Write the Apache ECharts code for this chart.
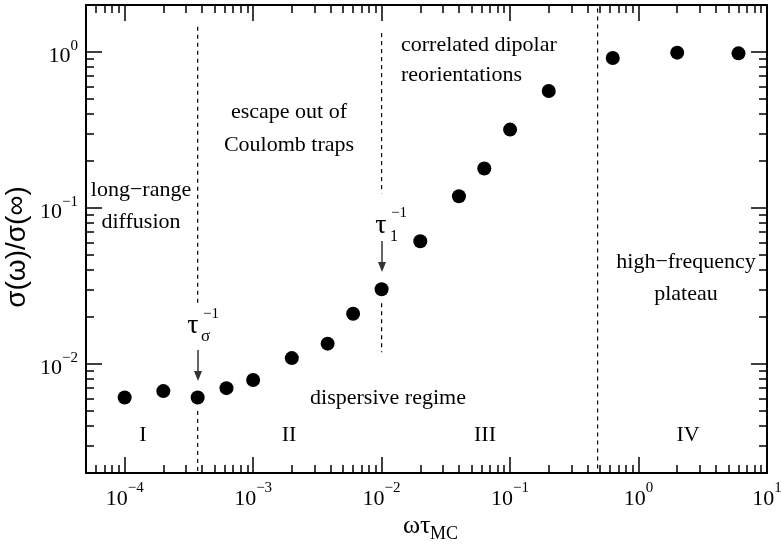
<!DOCTYPE html>
<html><head><meta charset="utf-8">
<script src="https://cdn.jsdelivr.net/npm/echarts@6/dist/echarts.min.js"></script>
<style>html,body{margin:0;padding:0;background:#fff}#c{width:781px;height:545px}</style>
</head><body><div id="c"></div>
<script>
// ---- data ----
const omegaTau = [1e-4, 2e-4, 3.7e-4, 6.2e-4, 1e-3, 2e-3, 3.8e-3, 6e-3, 1e-2, 2e-2, 4e-2, 6.3e-2, 1e-1, 2e-1, 6.3e-1, 2, 6];
const sigmaRatio = [0.0061, 0.0067, 0.0061, 0.0070, 0.0079, 0.0109, 0.0135, 0.0210, 0.0301, 0.0612, 0.119, 0.179, 0.318, 0.562, 0.915, 0.99, 0.98];
const xTickValues = [1e-4, 1e-3, 1e-2, 1e-1, 1, 10];
const yTickValues = [1e-2, 1e-1, 1];
const xRange = [5e-5, 10];
const yRange = [2e-3, 2];
// dashed boundaries: [x, yFrom, yTo]
const dashedSegments = [
  [3.7e-4, 1.45, 0.0244], [3.7e-4, 0.0050, 2e-3],
  [1e-2, 1.32, 0.124], [1e-2, 0.0245, 0.0119],
  [0.48, 1.9, 2e-3]
];

const L = Math.log10;
function minorTicks(lo, hi) {
  const out = [];
  for (let e = Math.floor(L(lo)); e <= Math.ceil(L(hi)); e++)
    for (let k = 2; k <= 9; k++) { const v = k * Math.pow(10, e); if (v > lo * 1.0001 && v < hi * 0.9999) out.push(L(v)); }
  return out;
}
const serif = '"Liberation Serif", "Times New Roman", serif';
const fmt = v => { const e = Math.round(v); return '{b|10}{s|' + (e < 0 ? '\u2212' + (-e) : e) + '}'; };
const rich = {
  b: { fontFamily: serif, fontSize: 22, color: '#000', lineHeight: 29, verticalAlign: 'bottom' },
  s: { fontFamily: serif, fontSize: 15, color: '#000', lineHeight: 12, verticalAlign: 'top' }
};
const line = { show: true, onZero: false, lineStyle: { color: '#000', width: 2 } };
function xAxis(pos, major, showLabel) {
  return {
    type: 'value', position: pos, min: L(xRange[0]), max: L(xRange[1]), gridIndex: 0,
    axisLine: major ? line : { show: false, onZero: false },
    axisTick: { show: true, inside: true, length: major ? 16 : 8, lineStyle: { color: '#000', width: 1.5 },
      customValues: major ? xTickValues.map(L) : minorTicks(xRange[0], xRange[1]) },
    axisLabel: showLabel ? { show: true, customValues: xTickValues.map(L), formatter: fmt, rich: rich, margin: 8 } : { show: false },
    splitLine: { show: false }
  };
}
function yAxis(pos, major, showLabel) {
  return {
    type: 'value', position: pos, min: L(yRange[0]), max: L(yRange[1]), gridIndex: 0,
    axisLine: major ? line : { show: false, onZero: false },
    axisTick: { show: true, inside: true, length: major ? 16 : 8, lineStyle: { color: '#000', width: 1.5 },
      customValues: major ? yTickValues.map(L) : minorTicks(yRange[0], yRange[1]) },
    axisLabel: showLabel ? { show: true, customValues: yTickValues.map(L), formatter: fmt, rich: rich, margin: 8, padding: [2, 0, 0, 0] } : { show: false },
    splitLine: { show: false }
  };
}

const series = [{
  type: 'scatter', xAxisIndex: 0, yAxisIndex: 0, z: 5,
  data: omegaTau.map((x, i) => [L(x), L(sigmaRatio[i])]),
  symbol: 'circle', symbolSize: 14, itemStyle: { color: '#000', opacity: 1 }, silent: true
}];
dashedSegments.forEach(s => series.push({
  type: 'line', xAxisIndex: 0, yAxisIndex: 0, z: 2, symbol: 'none', silent: true,
  data: [[L(s[0]), L(s[1])], [L(s[0]), L(s[2])]],
  lineStyle: { color: '#000', width: 1.2, type: [4, 4] }
}));

function txt(t, x, y, size, align, family) {
  return { type: 'text', x: x, y: y, silent: true, style: { text: t, font: size + 'px ' + (family || serif), fill: '#000',
    align: align || 'center', textAlign: align || 'center', verticalAlign: 'middle', textVerticalAlign: 'middle' } };
}
function arrow(x, y0, y1) {
  return [
    { type: 'line', silent: true, shape: { x1: x, y1: y0, x2: x, y2: y1 - 8 }, style: { stroke: '#333', lineWidth: 1.5 } },
    { type: 'polygon', silent: true, shape: { points: [[x - 4, y1 - 10], [x + 4, y1 - 10], [x, y1]] }, style: { fill: '#333' } }
  ];
}
const graphic = [
  txt('long\u2212range', 141, 190, 22), txt('diffusion', 141, 222, 22),
  txt('escape out of', 289, 112, 22), txt('Coulomb traps', 289, 145, 22),
  txt('correlated dipolar', 401, 45, 22, 'left'), txt('reorientations', 401, 75, 22, 'left'),
  txt('high\u2212frequency', 686, 262, 22), txt('plateau', 686, 294, 22),
  txt('dispersive regime', 388, 398, 22),
  txt('I', 143, 435, 22), txt('II', 289, 435, 22), txt('III', 485, 435, 22), txt('IV', 688, 435, 22),
  // tau_sigma^-1
  txt('\u03c4', 193, 326, 28, 'center', serif), txt('\u22121', 203, 314, 15, 'left'), txt('\u03c3', 201, 337, 17, 'left', serif),
  // tau_1^-1
  txt('\u03c4', 381, 226, 28, 'center', serif), txt('\u22121', 391, 213, 15, 'left'), txt('1', 390, 237, 16, 'left'),
  ...arrow(198, 350, 381), ...arrow(382, 241, 272),
  // axis titles
  { type: 'text', x: 17, y: 247, rotation: Math.PI / 2, silent: true,
    style: { text: '\u03c3(\u03c9)/\u03c3(\u221e)', font: '28px "Liberation Sans", Arial, sans-serif', fill: '#000',
      align: 'center', textAlign: 'center', verticalAlign: 'middle', textVerticalAlign: 'middle' } },
  txt('\u03c9\u03c4', 403, 526, 26, 'left', serif), txt('MC', 430, 534, 18, 'left')
];

const chart = echarts.init(document.getElementById('c'), null, { renderer: 'canvas' });
chart.setOption({
  animation: false,
  backgroundColor: '#fff',
  grid: { left: 86, top: 5, width: 681, height: 468, containLabel: false, outerBoundsMode: 'none' },
  xAxis: [xAxis('bottom', true, true), xAxis('bottom', false, false), xAxis('top', true, false), xAxis('top', false, false)],
  yAxis: [yAxis('left', true, true), yAxis('left', false, false), yAxis('right', true, false), yAxis('right', false, false)],
  series: series,
  graphic: graphic
});
</script></body></html>
